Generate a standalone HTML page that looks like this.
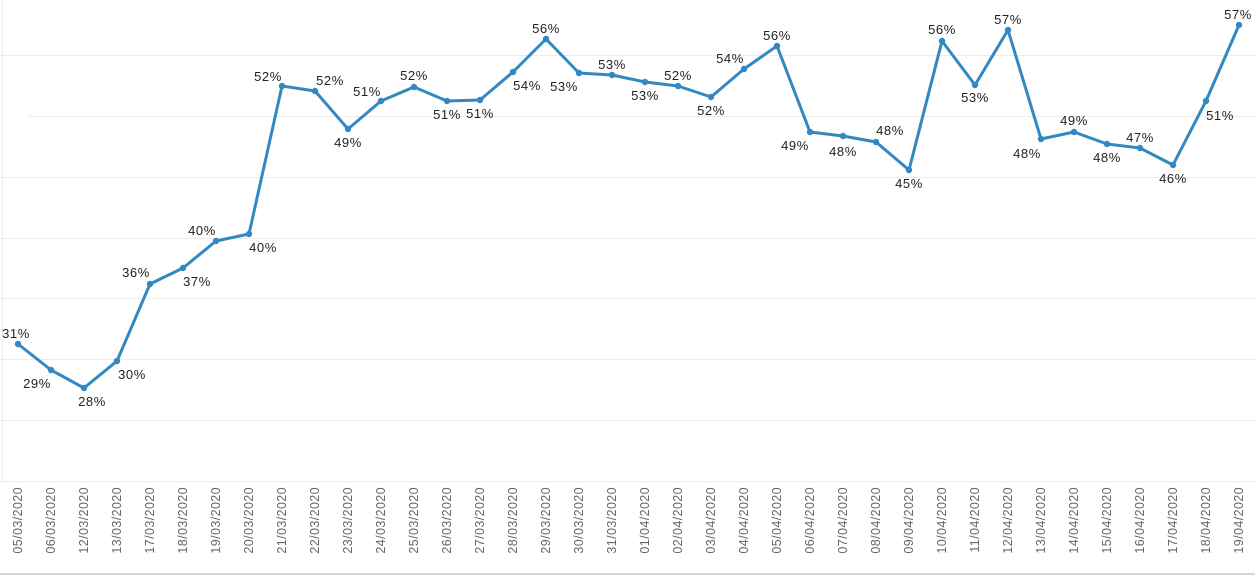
<!DOCTYPE html>
<html><head><meta charset="utf-8"><style>
html,body{margin:0;padding:0;background:#fff;}
svg{display:block;font-family:"Liberation Sans",sans-serif;}
</style></head><body>
<svg width="1255" height="575" viewBox="0 0 1255 575" xmlns="http://www.w3.org/2000/svg">
<g stroke="#ececec" stroke-width="1">
<line x1="0" y1="55.5" x2="1255" y2="55.5"/>
<line x1="28" y1="116.5" x2="1255" y2="116.5"/>
<line x1="0" y1="177.5" x2="1255" y2="177.5"/>
<line x1="0" y1="238.5" x2="1255" y2="238.5"/>
<line x1="0" y1="298.5" x2="1255" y2="298.5"/>
<line x1="0" y1="359.5" x2="1255" y2="359.5"/>
<line x1="0" y1="420.5" x2="1255" y2="420.5"/>
<line x1="0" y1="481.5" x2="1255" y2="481.5"/>
<line x1="2.5" y1="0" x2="2.5" y2="481"/>
</g>
<line x1="0" y1="574" x2="1255" y2="574" stroke="#d6d6d6" stroke-width="2"/>
<polyline fill="none" stroke="#3388c2" stroke-width="3" stroke-linejoin="round" points="18,344 51,370 84,388 117,361 150,284 183,268 216,241 249,234 282,86 315,91 348,129 381,101 414,87 447,101 480,100 513,72 546,39 579,73 612,75 645,82 678,86 711,97 744,69 777,46 810,132 843,136 876,142 909,170 942,41 975,85 1008,30 1041,139 1074,132 1107,144 1140,148 1173,165 1206,101 1239,25"/>
<g fill="#3388c2">
<circle cx="18" cy="344" r="3.2"/><circle cx="51" cy="370" r="3.2"/><circle cx="84" cy="388" r="3.2"/><circle cx="117" cy="361" r="3.2"/><circle cx="150" cy="284" r="3.2"/><circle cx="183" cy="268" r="3.2"/><circle cx="216" cy="241" r="3.2"/><circle cx="249" cy="234" r="3.2"/><circle cx="282" cy="86" r="3.2"/><circle cx="315" cy="91" r="3.2"/><circle cx="348" cy="129" r="3.2"/><circle cx="381" cy="101" r="3.2"/><circle cx="414" cy="87" r="3.2"/><circle cx="447" cy="101" r="3.2"/><circle cx="480" cy="100" r="3.2"/><circle cx="513" cy="72" r="3.2"/><circle cx="546" cy="39" r="3.2"/><circle cx="579" cy="73" r="3.2"/><circle cx="612" cy="75" r="3.2"/><circle cx="645" cy="82" r="3.2"/><circle cx="678" cy="86" r="3.2"/><circle cx="711" cy="97" r="3.2"/><circle cx="744" cy="69" r="3.2"/><circle cx="777" cy="46" r="3.2"/><circle cx="810" cy="132" r="3.2"/><circle cx="843" cy="136" r="3.2"/><circle cx="876" cy="142" r="3.2"/><circle cx="909" cy="170" r="3.2"/><circle cx="942" cy="41" r="3.2"/><circle cx="975" cy="85" r="3.2"/><circle cx="1008" cy="30" r="3.2"/><circle cx="1041" cy="139" r="3.2"/><circle cx="1074" cy="132" r="3.2"/><circle cx="1107" cy="144" r="3.2"/><circle cx="1140" cy="148" r="3.2"/><circle cx="1173" cy="165" r="3.2"/><circle cx="1206" cy="101" r="3.2"/><circle cx="1239" cy="25" r="3.2"/>
</g>
<g font-size="13" fill="#222" text-anchor="middle" letter-spacing="0.6">
<text x="16" y="338">31%</text><text x="37" y="388">29%</text><text x="92" y="406">28%</text><text x="132" y="379">30%</text>
<text x="136" y="277">36%</text><text x="197" y="286">37%</text><text x="202" y="235">40%</text><text x="263" y="252">40%</text>
<text x="268" y="81">52%</text><text x="330" y="85">52%</text><text x="348" y="147">49%</text><text x="367" y="96">51%</text>
<text x="414" y="80">52%</text><text x="447" y="119">51%</text><text x="480" y="118">51%</text><text x="527" y="90">54%</text>
<text x="546" y="33">56%</text><text x="564" y="91">53%</text><text x="612" y="69">53%</text><text x="645" y="100">53%</text>
<text x="678" y="80">52%</text><text x="711" y="115">52%</text><text x="730" y="63">54%</text><text x="777" y="40">56%</text>
<text x="795" y="150">49%</text><text x="843" y="156">48%</text><text x="890" y="135">48%</text><text x="909" y="188">45%</text>
<text x="942" y="34">56%</text><text x="975" y="102">53%</text><text x="1008" y="24">57%</text><text x="1027" y="158">48%</text>
<text x="1074" y="125">49%</text><text x="1107" y="162">48%</text><text x="1140" y="142">47%</text><text x="1173" y="183">46%</text>
<text x="1220" y="120">51%</text><text x="1238" y="19">57%</text>
</g>
<g font-size="12.5" fill="#666" text-anchor="end" letter-spacing="0.4">
<text transform="translate(22,487) rotate(-90)">05/03/2020</text>
<text transform="translate(55,487) rotate(-90)">06/03/2020</text>
<text transform="translate(88,487) rotate(-90)">12/03/2020</text>
<text transform="translate(121,487) rotate(-90)">13/03/2020</text>
<text transform="translate(154,487) rotate(-90)">17/03/2020</text>
<text transform="translate(187,487) rotate(-90)">18/03/2020</text>
<text transform="translate(220,487) rotate(-90)">19/03/2020</text>
<text transform="translate(253,487) rotate(-90)">20/03/2020</text>
<text transform="translate(286,487) rotate(-90)">21/03/2020</text>
<text transform="translate(319,487) rotate(-90)">22/03/2020</text>
<text transform="translate(352,487) rotate(-90)">23/03/2020</text>
<text transform="translate(385,487) rotate(-90)">24/03/2020</text>
<text transform="translate(418,487) rotate(-90)">25/03/2020</text>
<text transform="translate(451,487) rotate(-90)">26/03/2020</text>
<text transform="translate(484,487) rotate(-90)">27/03/2020</text>
<text transform="translate(517,487) rotate(-90)">28/03/2020</text>
<text transform="translate(550,487) rotate(-90)">29/03/2020</text>
<text transform="translate(583,487) rotate(-90)">30/03/2020</text>
<text transform="translate(616,487) rotate(-90)">31/03/2020</text>
<text transform="translate(649,487) rotate(-90)">01/04/2020</text>
<text transform="translate(682,487) rotate(-90)">02/04/2020</text>
<text transform="translate(715,487) rotate(-90)">03/04/2020</text>
<text transform="translate(748,487) rotate(-90)">04/04/2020</text>
<text transform="translate(781,487) rotate(-90)">05/04/2020</text>
<text transform="translate(814,487) rotate(-90)">06/04/2020</text>
<text transform="translate(847,487) rotate(-90)">07/04/2020</text>
<text transform="translate(880,487) rotate(-90)">08/04/2020</text>
<text transform="translate(913,487) rotate(-90)">09/04/2020</text>
<text transform="translate(946,487) rotate(-90)">10/04/2020</text>
<text transform="translate(979,487) rotate(-90)">11/04/2020</text>
<text transform="translate(1012,487) rotate(-90)">12/04/2020</text>
<text transform="translate(1045,487) rotate(-90)">13/04/2020</text>
<text transform="translate(1078,487) rotate(-90)">14/04/2020</text>
<text transform="translate(1111,487) rotate(-90)">15/04/2020</text>
<text transform="translate(1144,487) rotate(-90)">16/04/2020</text>
<text transform="translate(1177,487) rotate(-90)">17/04/2020</text>
<text transform="translate(1210,487) rotate(-90)">18/04/2020</text>
<text transform="translate(1243,487) rotate(-90)">19/04/2020</text>
</g>
</svg>
</body></html>
